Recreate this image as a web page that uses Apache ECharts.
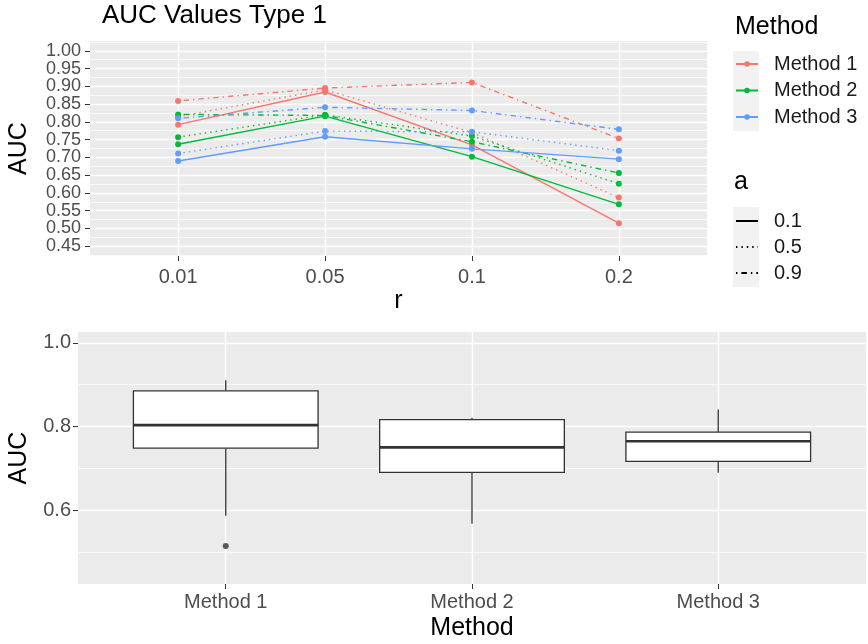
<!DOCTYPE html>
<html>
<head>
<meta charset="utf-8">
<title>AUC Values Type 1</title>
<script src="https://cdn.jsdelivr.net/npm/echarts@6/dist/echarts.min.js"></script>
<style>
    html, body { margin: 0; padding: 0; background: #fff; }
    #chart { width: 868px; height: 644px; }
</style>
</head>
<body>
<div id="chart"></div>
<script>
const rLabels = ['0.01', '0.05', '0.1', '0.2'];
const methodNames = ['Method 1', 'Method 2', 'Method 3'];
const aLevels = ['0.1', '0.5', '0.9'];

// AUC at each r, one array per method and a
const m1a01 = [0.792, 0.884, 0.735, 0.515];
const m1a05 = [0.815, 0.890, 0.770, 0.587];
const m1a09 = [0.859, 0.895, 0.911, 0.753];
const m2a01 = [0.737, 0.816, 0.702, 0.568];
const m2a05 = [0.757, 0.820, 0.760, 0.626];
const m2a09 = [0.821, 0.818, 0.744, 0.656];
const m3a01 = [0.690, 0.758, 0.724, 0.695];
const m3a05 = [0.711, 0.774, 0.772, 0.719];
const m3a09 = [0.810, 0.841, 0.832, 0.779];

const topYTicks = [0.45, 0.50, 0.55, 0.60, 0.65, 0.70, 0.75, 0.80, 0.85, 0.90, 0.95, 1.00];
const topYMinor = [0.425, 0.475, 0.525, 0.575, 0.625, 0.675, 0.725, 0.775, 0.825, 0.875, 0.925, 0.975, 1.025];
const bottomYTicks = [0.6, 0.8, 1.0];
const bottomYMinor = [0.5, 0.7, 0.9];

const aucByMethod = [
    [m1a01, m1a05, m1a09],
    [m2a01, m2a05, m2a09],
    [m3a01, m3a05, m3a09]
];

// top y labels are packed tight, so they are shared out over two axes
// (otherwise echarts drops the ones next to the min / max label)
const topYLabelsEven = topYTicks.filter((v, i) => i % 2 === 0);
const topYLabelsOdd = topYTicks.filter((v, i) => i % 2 === 1);

const methodColors = ['#F8766D', '#00BA38', '#619CFF'];
const aDashes = ['solid', [1.4, 4], [1.4, 4, 5.5, 4]];
const ink = '#333333';

// ggplot style box stats (type 7 quantiles, 1.5 IQR whiskers)
function quantile(sorted, p) {
    const h = (sorted.length - 1) * p;
    const lo = Math.floor(h);
    const next = lo + 1 < sorted.length ? sorted[lo + 1] : sorted[lo];
    return sorted[lo] + (h - lo) * (next - sorted[lo]);
}

function boxStats(values) {
    const s = values.slice().sort((a, b) => a - b);
    const q1 = quantile(s, 0.25), med = quantile(s, 0.5), q3 = quantile(s, 0.75);
    const iqr = q3 - q1;
    const inside = s.filter(v => v >= q1 - 1.5 * iqr && v <= q3 + 1.5 * iqr);
    return {
        box: [inside[0], q1, med, q3, inside[inside.length - 1]],
        outliers: s.filter(v => inside.indexOf(v) < 0)
    };
}

const boxRows = [];
const outlierPoints = [];
aucByMethod.forEach((runs, i) => {
    const st = boxStats([].concat(...runs));
    boxRows.push([i].concat(st.box));
    st.outliers.forEach(v => outlierPoints.push([i, v]));
});

function renderBox(params, api) {
    const x = api.value(0);
    const lo = api.coord([x, api.value(1)]);
    const q1 = api.coord([x, api.value(2)]);
    const med = api.coord([x, api.value(3)]);
    const q3 = api.coord([x, api.value(4)]);
    const hi = api.coord([x, api.value(5)]);
    const left = api.coord([x - 0.375, api.value(3)])[0];
    const right = api.coord([x + 0.375, api.value(3)])[0];
    const thin = { stroke: ink, lineWidth: 1.3, fill: null };
    return {
        type: 'group',
        children: [
            { type: 'line', shape: { x1: lo[0], y1: lo[1], x2: q1[0], y2: q1[1] }, style: thin },
            { type: 'line', shape: { x1: q3[0], y1: q3[1], x2: hi[0], y2: hi[1] }, style: thin },
            { type: 'rect', shape: { x: left, y: q3[1], width: right - left, height: q1[1] - q3[1] },
              style: { fill: '#ffffff', stroke: ink, lineWidth: 1.3 } },
            { type: 'line', shape: { x1: left, y1: med[1], x2: right, y2: med[1] },
              style: { stroke: ink, lineWidth: 2.6 } }
        ]
    };
}

const lineSeries = [];
aucByMethod.forEach((runs, mi) => {
    runs.forEach((vals, ai) => {
        lineSeries.push({
            name: methodNames[mi],
            type: 'line',
            xAxisIndex: 0,
            yAxisIndex: 0,
            data: vals.map((v, i) => [i, v]),
            symbol: 'circle',
            symbolSize: 6,
            color: methodColors[mi],
            itemStyle: { color: methodColors[mi] },
            lineStyle: { color: methodColors[mi], width: 1.4, type: aDashes[ai] },
            z: 3
        });
    });
});

// empty series that only feed the "a" legend
const aLegendSeries = aLevels.map((a, ai) => ({
    name: a,
    type: 'line',
    xAxisIndex: 0,
    yAxisIndex: 0,
    data: [],
    symbol: 'none',
    color: '#000000',
    itemStyle: { color: 'rgba(0,0,0,0)', borderWidth: 0 },
    lineStyle: { color: '#000000', width: 1.4, type: aDashes[ai] }
}));

const tickStyle = { show: true, length: 5, lineStyle: { color: ink, width: 1 } };
const noLine = { show: false, onZero: false };
const majorLine = { show: true, lineStyle: { color: '#ffffff', width: 1.4 } };
const minorLine = { show: true, lineStyle: { color: '#ffffff', width: 0.7 } };
const font = 'Liberation Sans, Arial, sans-serif';
const topYLabel = { fontSize: 18, color: '#4D4D4D', margin: 9, fontFamily: font,
                    formatter: v => v.toFixed(2), showMinLabel: true, showMaxLabel: true };

const chart = echarts.init(document.getElementById('chart'), null, { renderer: 'canvas' });

const option = {
    animation: false,
    textStyle: { fontFamily: font },
    title: [
        { text: 'AUC Values Type 1', left: 102, top: 3, padding: 0,
          textStyle: { fontSize: 26, fontWeight: 'normal', color: '#000', fontFamily: font } },
        { text: 'Method', left: 735, top: 15, padding: 0,
          textStyle: { fontSize: 25, fontWeight: 'normal', color: '#000', fontFamily: font } },
        { text: 'a', left: 734, top: 170, padding: 0,
          textStyle: { fontSize: 25, fontWeight: 'normal', color: '#000', fontFamily: font } }
    ],
    graphic: [
        { type: 'rect', left: 733, top: 51, shape: { width: 26, height: 80 }, style: { fill: '#F2F2F2' }, z: 0 },
        { type: 'rect', left: 733, top: 207, shape: { width: 26, height: 80 }, style: { fill: '#F2F2F2' }, z: 0 }
    ],
    legend: [
        {
            data: methodNames, orient: 'vertical', left: 735, top: 54, padding: 0,
            itemWidth: 22, itemHeight: 7, itemGap: 6.5, selectedMode: false,
            textStyle: { fontSize: 20, color: '#1A1A1A', fontFamily: font, padding: [0, 0, 0, 11] }
        },
        {
            data: aLevels, orient: 'vertical', left: 735, top: 211, padding: 0,
            itemWidth: 22, itemHeight: 7, itemGap: 6, selectedMode: false,
            itemStyle: { color: 'rgba(0,0,0,0)', borderWidth: 0 },
            textStyle: { fontSize: 20, color: '#1A1A1A', fontFamily: font, padding: [0, 0, 0, 11] }
        }
    ],
    grid: [
        { left: 90, top: 41, width: 617, height: 215, show: true, backgroundColor: '#EBEBEB',
          borderWidth: 0, containLabel: false, outerBoundsMode: 'none' },
        { left: 78, top: 332, width: 788, height: 252, show: true, backgroundColor: '#EBEBEB',
          borderWidth: 0, containLabel: false, outerBoundsMode: 'none' }
    ],
    xAxis: [
        {
            type: 'value', gridIndex: 0, min: -0.6, max: 3.6,
            name: 'r', nameLocation: 'middle', nameGap: 33,
            nameTextStyle: { fontSize: 25, color: '#000', fontFamily: font },
            axisLine: noLine,
            axisTick: Object.assign({ customValues: [0, 1, 2, 3] }, tickStyle),
            axisLabel: { customValues: [0, 1, 2, 3], formatter: v => rLabels[v], fontSize: 20,
                         color: '#4D4D4D', margin: 11, fontFamily: font },
            splitLine: majorLine
        },
        {
            type: 'value', gridIndex: 1, min: -0.6, max: 2.6,
            name: 'Method', nameLocation: 'middle', nameGap: 32,
            nameTextStyle: { fontSize: 25, color: '#000', fontFamily: font },
            axisLine: noLine,
            axisTick: Object.assign({ customValues: [0, 1, 2] }, tickStyle),
            axisLabel: { customValues: [0, 1, 2], formatter: v => methodNames[v], fontSize: 20,
                         color: '#4D4D4D', margin: 8, fontFamily: font },
            splitLine: majorLine
        }
    ],
    yAxis: [
        {
            type: 'value', gridIndex: 0, min: 0.4225, max: 1.0275,
            name: 'AUC', nameLocation: 'middle', nameGap: 58,
            nameTextStyle: { fontSize: 25, color: '#000', fontFamily: font },
            axisLine: noLine,
            axisTick: Object.assign({ customValues: topYTicks }, tickStyle),
            axisLabel: Object.assign({ customValues: topYLabelsEven }, topYLabel),
            splitLine: majorLine
        },
        {
            type: 'value', gridIndex: 0, min: 0.4225, max: 1.0275, position: 'left', offset: 0,
            axisLine: noLine,
            axisLabel: Object.assign({ customValues: topYLabelsOdd }, topYLabel),
            axisTick: { show: false, customValues: topYMinor },
            splitLine: minorLine
        },
        {
            type: 'value', gridIndex: 1, min: 0.424, max: 1.026,
            name: 'AUC', nameLocation: 'middle', nameGap: 46,
            nameTextStyle: { fontSize: 25, color: '#000', fontFamily: font },
            axisLine: noLine,
            axisTick: Object.assign({ customValues: bottomYTicks }, tickStyle),
            axisLabel: { customValues: bottomYTicks, formatter: v => v.toFixed(1), fontSize: 20,
                         color: '#4D4D4D', margin: 7, fontFamily: font,
                         showMinLabel: true, showMaxLabel: true },
            splitLine: majorLine
        },
        {
            type: 'value', gridIndex: 1, min: 0.424, max: 1.026, position: 'left',
            axisLine: noLine, axisLabel: { show: false },
            axisTick: { show: false, customValues: bottomYMinor },
            splitLine: minorLine
        }
    ],
    series: lineSeries.concat(aLegendSeries).concat([
        {
            name: 'box',
            type: 'custom',
            xAxisIndex: 1,
            yAxisIndex: 2,
            data: boxRows,
            encode: { x: 0, y: [1, 2, 3, 4, 5] },
            renderItem: renderBox,
            z: 3
        },
        {
            name: 'outliers',
            type: 'scatter',
            xAxisIndex: 1,
            yAxisIndex: 2,
            data: outlierPoints,
            symbolSize: 6,
            itemStyle: { color: ink },
            z: 4
        }
    ])
};

chart.setOption(option);
window.addEventListener('resize', chart.resize);
</script>
</body>
</html>
